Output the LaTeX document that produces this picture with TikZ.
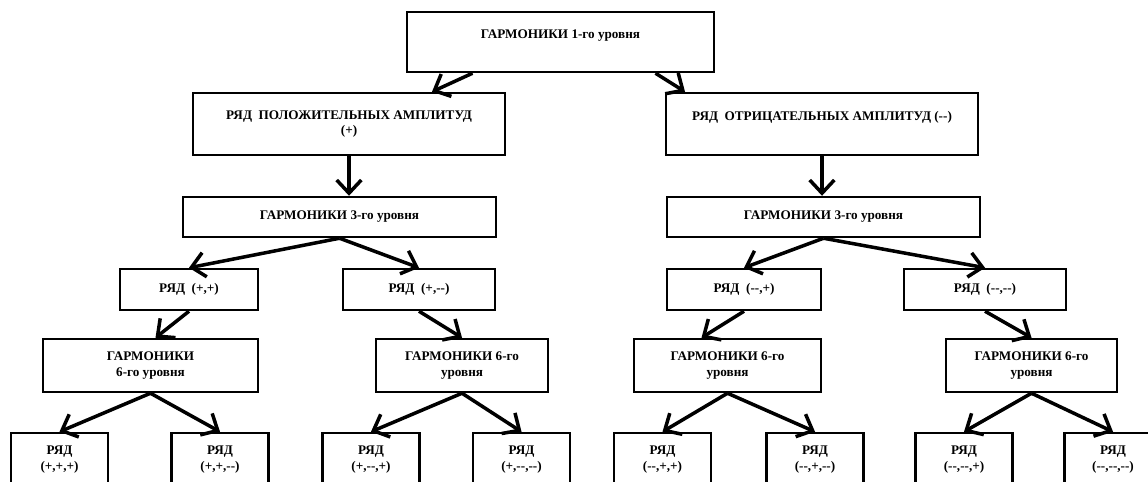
\documentclass[tikz,border=0pt]{standalone}
\usepackage{fontspec}
\setmainfont{Liberation Serif}
\usetikzlibrary{arrows.meta,calc}
\tikzset{
    blok/.style={draw, line width=1.4pt, inner sep=0pt, align=center,
        font=\bfseries\fontsize{7.5}{9}\selectfont},
    strelka/.style={line width=2pt, -{Straight Barb[length=7.5pt,width=14pt]}},
}

\begin{document}
\begin{tikzpicture}[x=0.02cm,y=-0.02cm]
\useasboundingbox (0,0) rectangle (1148,482);

\node[blok, minimum width=6.14cm, minimum height=1.2cm] (top) at (560.5,42) {ГАРМОНИКИ 1-го уровня\\ \mbox{}};
\node[blok, minimum width=6.24cm, minimum height=1.24cm] (pos) at (349,124) {РЯД\ \ ПОЛОЖИТЕЛЬНЫХ АМПЛИТУД\\ (+)};
\node[blok, minimum width=6.24cm, minimum height=1.24cm] (neg) at (822,124) {РЯД\ \ ОТРИЦАТЕЛЬНЫХ АМПЛИТУД (-{}-)\\ \mbox{}};

\node[blok, minimum width=6.26cm, minimum height=0.8cm] (tripos) at (339.5,217) {ГАРМОНИКИ 3-го уровня};
\node[blok, minimum width=6.26cm, minimum height=0.8cm] (trineg) at (823.5,217) {ГАРМОНИКИ 3-го уровня};

\node[blok, minimum width=2.76cm, minimum height=0.82cm] (pp) at (189,289.5) {РЯД\ \ (+,+)};
\node[blok, minimum width=3.04cm, minimum height=0.82cm] (pm) at (419,289.5) {РЯД\ \ (+,-{}-)};
\node[blok, minimum width=3.08cm, minimum height=0.82cm] (mp) at (744,289.5) {РЯД\ \ (-{}-,+)};
\node[blok, minimum width=3.24cm, minimum height=0.82cm] (mm) at (985,289.5) {РЯД\ \ (-{}-,-{}-)};

\node[blok, minimum width=4.3cm, minimum height=1.06cm] (shpp) at (150.5,365.5) {ГАРМОНИКИ\\ 6-го уровня};
\node[blok, minimum width=3.44cm, minimum height=1.06cm] (shpm) at (462,365.5) {ГАРМОНИКИ 6-го\\ уровня};
\node[blok, minimum width=3.74cm, minimum height=1.06cm] (shmp) at (727.5,365.5) {ГАРМОНИКИ 6-го\\ уровня};
\node[blok, minimum width=3.42cm, minimum height=1.06cm] (shmm) at (1031.5,365.5) {ГАРМОНИКИ 6-го\\ уровня};

\node[blok, minimum width=1.94cm, minimum height=1.06cm] (ppp) at (59.5,459.5) {РЯД\\ (+,+,+)};
\node[blok, minimum width=1.94cm, minimum height=1.06cm] (ppm) at (220,459.5) {РЯД\\ (+,+,-{}-)};
\node[blok, minimum width=1.94cm, minimum height=1.06cm] (pmp) at (371,459.5) {РЯД\\ (+,-{}-,+)};
\node[blok, minimum width=1.94cm, minimum height=1.06cm] (pmm) at (521.5,459.5) {РЯД\\ (+,-{}-,-{}-)};
\node[blok, minimum width=1.94cm, minimum height=1.06cm] (mpp) at (662.5,459.5) {РЯД\\ (-{}-,+,+)};
\node[blok, minimum width=1.94cm, minimum height=1.06cm] (mpm) at (815,459.5) {РЯД\\ (-{}-,+,-{}-)};
\node[blok, minimum width=1.94cm, minimum height=1.06cm] (mmp) at (964,459.5) {РЯД\\ (-{}-,-{}-,+)};
\node[blok, minimum width=1.94cm, minimum height=1.06cm] (mmm) at (1113,459.5) {РЯД\\ (-{}-,-{}-,-{}-)};

% strelki
\draw[strelka] ($(top.south)+(-88,0)$) -- ($(pos.north)+(83,0)$);
\draw[strelka] ($(top.south)+(95,0)$) -- ($(neg.north)+(-137,0)$);
\draw[strelka] (pos.south) -- (pos.south |- tripos.north);
\draw[strelka] (neg.south) -- (neg.south |- trineg.north);

\draw[strelka] (tripos.south) -- (pp.north);
\draw[strelka] (tripos.south) -- (pm.north);
\draw[strelka] (trineg.south) -- (mp.north);
\draw[strelka] (trineg.south) -- (mm.north);

\draw[strelka] (pp.south) -- ($(shpp.north)+(5,0)$);
\draw[strelka] (pm.south) -- (shpm.north);
\draw[strelka] (mp.south) -- ($(shmp.north)+(-26,0)$);
\draw[strelka] (mm.south) -- (shmm.north);

\draw[strelka] (shpp.south) -- (ppp.north);
\draw[strelka] (shpp.south) -- (ppm.north);
\draw[strelka] (shpm.south) -- (pmp.north);
\draw[strelka] (shpm.south) -- (pmm.north);
\draw[strelka] (shmp.south) -- (mpp.north);
\draw[strelka] (shmp.south) -- (mpm.north);
\draw[strelka] (shmm.south) -- (mmp.north);
\draw[strelka] (shmm.south) -- (mmm.north);
\end{tikzpicture}
\end{document}
